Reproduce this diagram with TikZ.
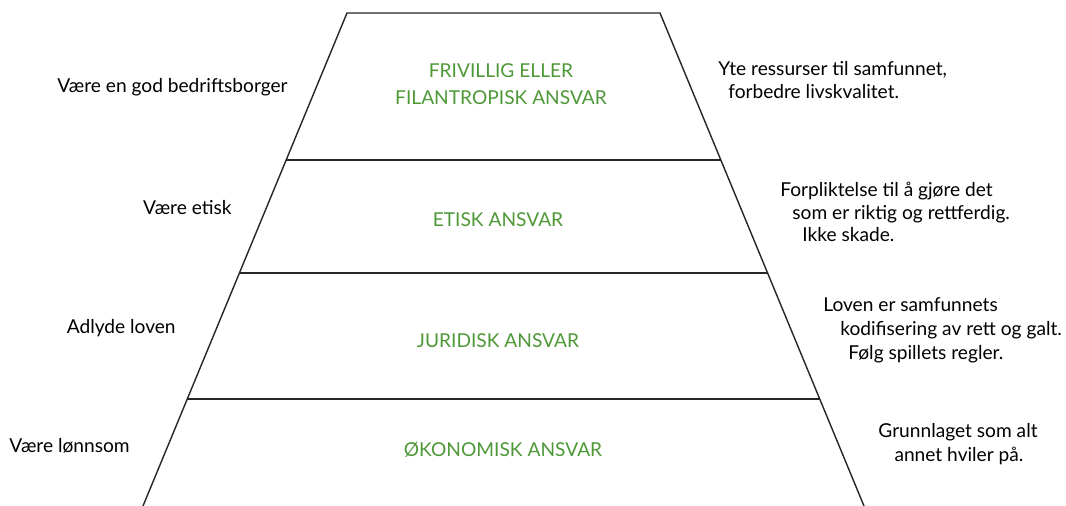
\documentclass[tikz,border=0pt]{standalone}
\usepackage{fontspec}
\setmainfont{Lato}
\definecolor{ansvargreen}{RGB}{78,152,56}
\tikzset{
  txt/.style={inner sep=0pt, font=\fontsize{10.9pt}{13.1pt}\selectfont},
  level/.style={txt, text=ansvargreen, anchor=base},
  duty/.style={txt, anchor=base east},
  note/.style={txt, anchor=base west},
  edge/.style={line width=0.8pt, black!85},
}
\begin{document}
\begin{tikzpicture}[x=0.02cm, y=-0.02cm]
  \useasboundingbox (0,0) rectangle (1066,506);
  % pyramid
  \draw[edge] (143,506) -- (347,13) -- (660,13) -- (864,506);
  \draw[edge] (286,160) -- (721,160);
  \draw[edge] (239,273) -- (768,273);
  \draw[edge] (187,399) -- (820,399);

  % levels
  \node[level] (frivillig) at (501,78) {FRIVILLIG ELLER};
  \node[level] (filantrop) at (501,105) {FILANTROPISK ANSVAR};
  \node[level] (etisk) at (498,227) {ETISK ANSVAR};
  \node[level] (juridisk) at (498,348) {JURIDISK ANSVAR};
  \node[level] (okonomisk) at (503,457) {ØKONOMISK ANSVAR};

  % left side
  \node[duty] (borger) at (288,93) {Være en god bedriftsborger};
  \node[duty] (vetisk) at (232,215) {Være etisk};
  \node[duty] (adlyde) at (176,334) {Adlyde loven};
  \node[duty] (lonnsom) at (130,453) {Være lønnsom};

  % right side
  \node[note] (yte) at (718,76) {Yte ressurser til samfunnet,};
  \node[note] (forbedre) at (728,99) {forbedre livskvalitet.};

  \node[note] (forplikt) at (780,197) {Forpliktelse til å gjøre det};
  \node[note] (riktig) at (792,220) {som er riktig og rettferdig.};
  \node[note] (skade) at (802,242) {Ikke skade.};

  \node[note] (loven) at (823,312) {Loven er samfunnets};
  \node[note] (kodif) at (840,336) {kodifisering av rett og galt.};
  \node[note] (regler) at (848,360) {Følg spillets regler.};

  \node[txt, anchor=base] (grunn) at (958,438) {Grunnlaget som alt};
  \node[txt, anchor=base] (hviler) at (959,462) {annet hviler på.};
\end{tikzpicture}
\end{document}
